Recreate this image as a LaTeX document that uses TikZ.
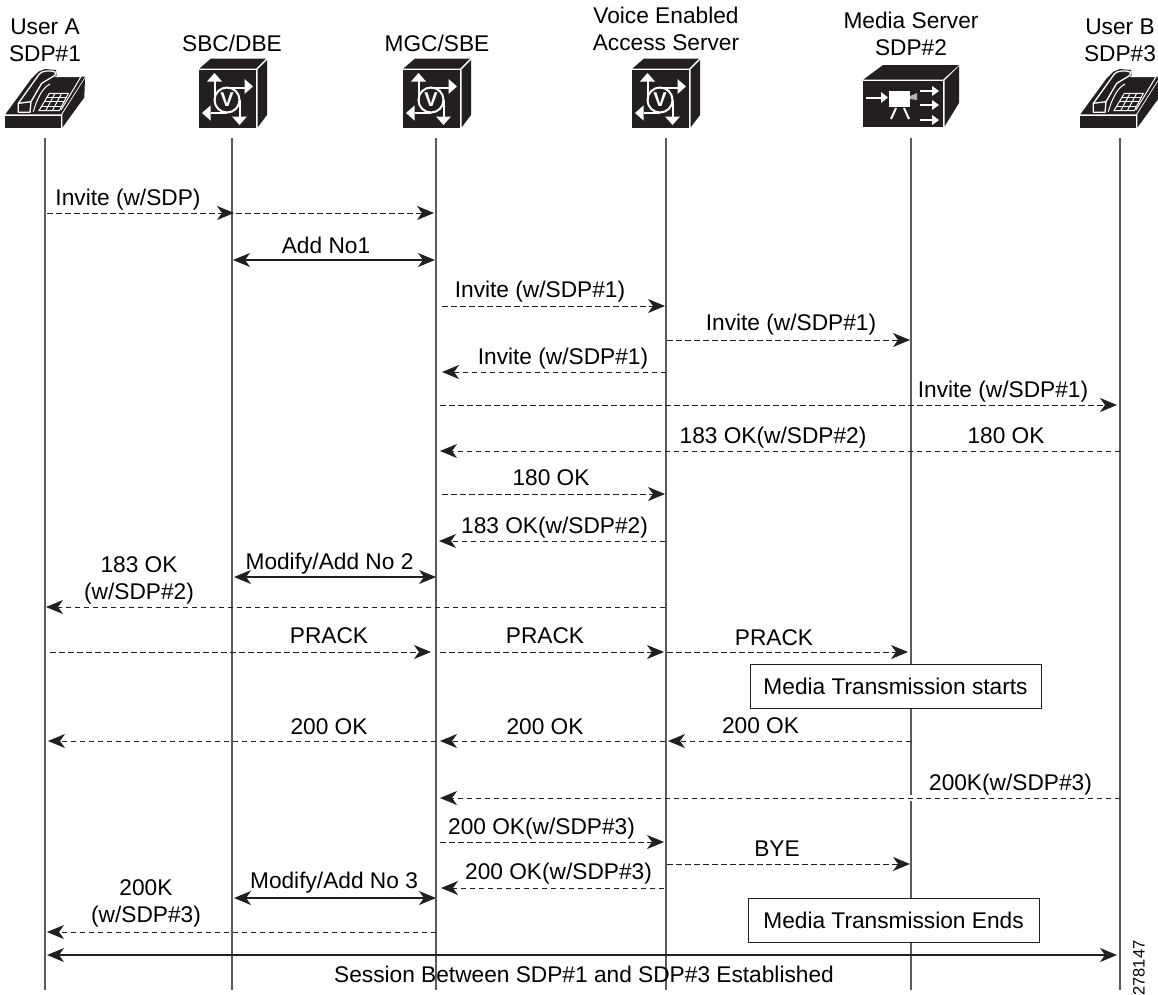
\documentclass[tikz,border=0pt]{standalone}
\usepackage{fontspec}
\setmainfont{Liberation Sans}
\usetikzlibrary{arrows.meta}
\definecolor{ink}{HTML}{231F20}
\definecolor{lane}{HTML}{5A5A5A}
\newcommand\lifeline[2]{\coordinate (#1top) at (#2,138); \coordinate (#1bot) at (#2,990); \draw[laneline] (#1top) -- (#1bot);}
\newcommand\msg[5]{\coordinate (#2s) at (#3,#5); \coordinate (#2e) at (#4,#5); \draw[#1] (#2s) -- (#2e);}
\newcommand\txt{\fontsize{22.7}{27}\selectfont}
\tikzset{
  laneline/.style={draw=lane,line width=1.1pt},
  tip/.tip={Stealth[length=17pt,width=14pt,inset=5pt]},
  dashmsg/.style={draw=ink,line width=0.9pt,dash pattern=on 5.5pt off 3.5pt,-{tip}},
  bothmsg/.style={draw=ink,line width=1.1pt,{tip}-{tip}},
  lbl/.style={font=\txt,inner sep=0pt,anchor=base,yshift=-8pt},
  head/.style={font=\txt,inner sep=0pt,align=center},
  notebox/.style={draw=ink,line width=1pt,fill=white,inner sep=0pt,minimum width=291pt,minimum height=44pt,font=\txt},
  wl/.style={draw=white,line width=2pt},
  wf/.style={fill=white,draw=none},
  vcube/.pic={
    \fill[ink] (0,0) rectangle (57,58);
    \fill[ink] (0.5,-1.5) -- (12,-11.5) -- (67,-11.5) -- (57,-1.5) -- cycle;
    \fill[ink] (58.5,-0.5) -- (68,-10) -- (68,45) -- (58.5,57.5) -- cycle;
    \draw[wl] (28,30) circle (12.5);
    \node[font=\fontsize{20}{20}\bfseries,text=white,inner sep=0pt] (v) at (28,30) {V};
    \draw[wl] (15.5,30) -- (15.5,11);
    \fill[wf] (15.5,3) -- (23,11.5) -- (8,11.5) -- cycle;
    \draw[wl] (28,17.5) -- (46,17.5);
    \fill[wf] (54,16.5) -- (45.5,9) -- (45.5,24) -- cycle;
    \draw[wl] (28,42.5) -- (12,42.5);
    \fill[wf] (3,43) -- (11.5,35.5) -- (11.5,50.5) -- cycle;
    \draw[wl] (40.5,30) -- (40.5,47);
    \fill[wf] (40.5,55) -- (33,46.5) -- (48,46.5) -- cycle;
  },
  mediabox/.pic={
    \fill[ink] (0,0) rectangle (80,46);
    \fill[ink] (0.5,-1.5) -- (20,-16) -- (96,-16) -- (80,-1.5) -- cycle;
    \fill[ink] (81.5,-0.5) -- (96,-15) -- (96,22) -- (81.5,45.5) -- cycle;
    \draw[wl] (2.5,16.5) -- (20,16.5);
    \fill[wf] (25,16.5) -- (18,11) -- (18,22) -- cycle;
    \fill[wf] (26,10) rectangle (47,26);
    \fill[gray!60] (47,15) -- (54,12) -- (54,19) -- (47,18) -- cycle;
    \draw[wl] (33,27) -- (28,38);
    \draw[wl] (41,27) -- (46,38);
    \draw[wl] (57,10) -- (71,10);
    \fill[wf] (76,10) -- (69,5) -- (69,15) -- cycle;
    \draw[wl] (57,24) -- (71,24);
    \fill[wf] (76,24) -- (69,19) -- (69,29) -- cycle;
    \draw[wl] (57,39) -- (71,39);
    \fill[wf] (76,39) -- (69,34) -- (69,44) -- cycle;
  },
  phone/.pic={
    % drawn in 3x crop units
    \fill[ink] (16,168) rectangle (183,205);
    \fill[ink] (16,163) -- (95,55) -- (115,35) -- (135,27) -- (168,30) -- (170,50) -- (255,50) -- (183,163) -- cycle;
    \fill[ink] (187,163) -- (255,55) -- (253,112) -- (187,203) -- cycle;
    \draw[white,line width=1.3pt,line join=round] (55,157) -- (55,130) -- (118,42) .. controls (125,32) and (150,30) .. (166,36) -- (165,46) -- (125,70) -- (93,125) -- (90,157) -- cycle;
    \draw[white,line width=1.3pt] (55,130) -- (93,125);
    \draw[white,line width=1pt] (166,50) -- (243,50) -- (183,150);
    \draw[white,line width=1pt] (150,72) .. controls (125,85) and (110,120) .. (100,155);
    \draw[white,line width=1pt] (148,100) -- (205,100) -- (178,152) -- (117,152) -- cycle;
    \draw[white,line width=1pt] (140,112) -- (200,112) (132,125) -- (193,125) (124,138) -- (186,138);
    \draw[white,line width=1pt] (165,100) -- (137,152) (185,100) -- (157,152);
  }
}
\begin{document}
\begin{tikzpicture}[x=1pt,y=-1pt]
\useasboundingbox (0,0) rectangle (1158,994);
\fill[white] (0,0) rectangle (1158,994);

% lifelines
\lifeline{a}{45}
\lifeline{b}{232}
\lifeline{c}{436}
\lifeline{d}{666}
\coordinate (etop) at (911,138); \coordinate (egap) at (911,795); \coordinate (egapb) at (911,801); \coordinate (ebot) at (911,990);
\draw[laneline] (etop) -- (egap) (egapb) -- (ebot);
\lifeline{f}{1120}

% heads
\node[head] (hA) at (45,40) {User A\\SDP\#1};
\node[head] (hB) at (232,43) {SBC/DBE};
\node[head] (hC) at (437,43) {MGC/SBE};
\node[head] (hD) at (666,29) {Voice Enabled\\Access Server};
\node[head] (hE) at (911,34) {Media Server\\SDP\#2};
\node[head] (hF) at (1120,40) {User B\\SDP\#3};

\pic[scale=0.3333] (pA) at (0,60) {phone};
\pic (iB) at (199,70) {vcube};
\pic (iC) at (403,70) {vcube};
\pic (iD) at (632,70) {vcube};
\pic (iE) at (863,81) {mediabox};
\pic[scale=0.3333] (pF) at (1075,60) {phone};

% messages
\msg{dashmsg}{m1}{47}{234}{213}
\msg{dashmsg}{m1b}{236}{434}{213}
\msg{bothmsg}{m2}{233}{435}{260}
\msg{dashmsg}{m3}{442}{665}{306}
\msg{dashmsg}{m4}{667}{910}{340}
\msg{dashmsg}{m5}{666}{442}{372}
\msg{dashmsg}{m6}{440}{1117}{405}
\msg{dashmsg}{m7}{1120}{440}{451}
\msg{dashmsg}{m8}{442}{665}{494}
\msg{dashmsg}{m9}{665}{439}{541}
\msg{bothmsg}{m10}{234}{436}{577}
\msg{dashmsg}{m11}{665}{46}{607}
\msg{dashmsg}{m12}{50}{431}{652}
\msg{dashmsg}{m13}{440}{664}{652}
\msg{dashmsg}{m14}{667}{908}{652}
\msg{dashmsg}{m15}{911}{668}{741}
\msg{dashmsg}{m16}{665}{440}{741}
\msg{dashmsg}{m17}{436}{48}{741}
\msg{dashmsg}{m18}{1120}{440}{798}
\msg{dashmsg}{m19}{440}{664}{842}
\msg{dashmsg}{m20}{667}{910}{864}
\msg{dashmsg}{m21}{664}{441}{888}
\msg{bothmsg}{m22}{234}{436}{898}
\msg{dashmsg}{m23}{436}{47}{932}
\msg{bothmsg}{m24}{47}{1117}{955}

% labels
\node[lbl] (t1) at (128,197) {Invite (w/SDP)};
\node[lbl] (t2) at (326,245) {Add No1};
\node[lbl] (t3) at (540,289) {Invite (w/SDP\#1)};
\node[lbl] (t4) at (791,322) {Invite (w/SDP\#1)};
\node[lbl] (t5) at (563,356) {Invite (w/SDP\#1)};
\node[lbl] (t6) at (1003,389) {Invite (w/SDP\#1)};
\node[lbl] (t7) at (773,435) {183 OK(w/SDP\#2)};
\node[lbl] (t7b) at (1006,435) {180 OK};
\node[lbl] (t8) at (551,477) {180 OK};
\node[lbl] (t9) at (554.5,525) {183 OK(w/SDP\#2)};
\node[lbl] (t10) at (329.5,561) {Modify/Add No 2};
\node[head] (t11) at (139,580) {183 OK\\(w/SDP\#2)};
\node[lbl] (t12) at (329,635) {PRACK};
\node[lbl] (t13) at (545,635) {PRACK};
\node[lbl] (t14) at (774,637) {PRACK};
\node[lbl] (t15) at (329,726) {200 OK};
\node[lbl] (t16) at (545,726) {200 OK};
\node[lbl] (t17) at (760.5,725) {200 OK};
\node[lbl] (t18) at (1010.5,782) {200K(w/SDP\#3)};
\node[lbl] (t19) at (541.5,826) {200 OK(w/SDP\#3)};
\node[lbl] (t20) at (777,848) {BYE};
\node[lbl] (t21) at (558.5,871) {200 OK(w/SDP\#3)};
\node[lbl] (t22) at (334,880) {Modify/Add No 3};
\node[head] (t23) at (146,903) {200K\\(w/SDP\#3)};
\node[lbl] (t24) at (584,974) {Session Between SDP\#1 and SDP\#3 Established};

% boxes
\node[notebox] (bx1) at (895.5,686) {Media Transmission starts};
\node[notebox] (bx2) at (893.5,920) {Media Transmission Ends};

\node[rotate=90,font=\fontsize{16.5}{16}\selectfont,inner sep=0pt] (code) at (1139,968) {278147};
\end{tikzpicture}
\end{document}
